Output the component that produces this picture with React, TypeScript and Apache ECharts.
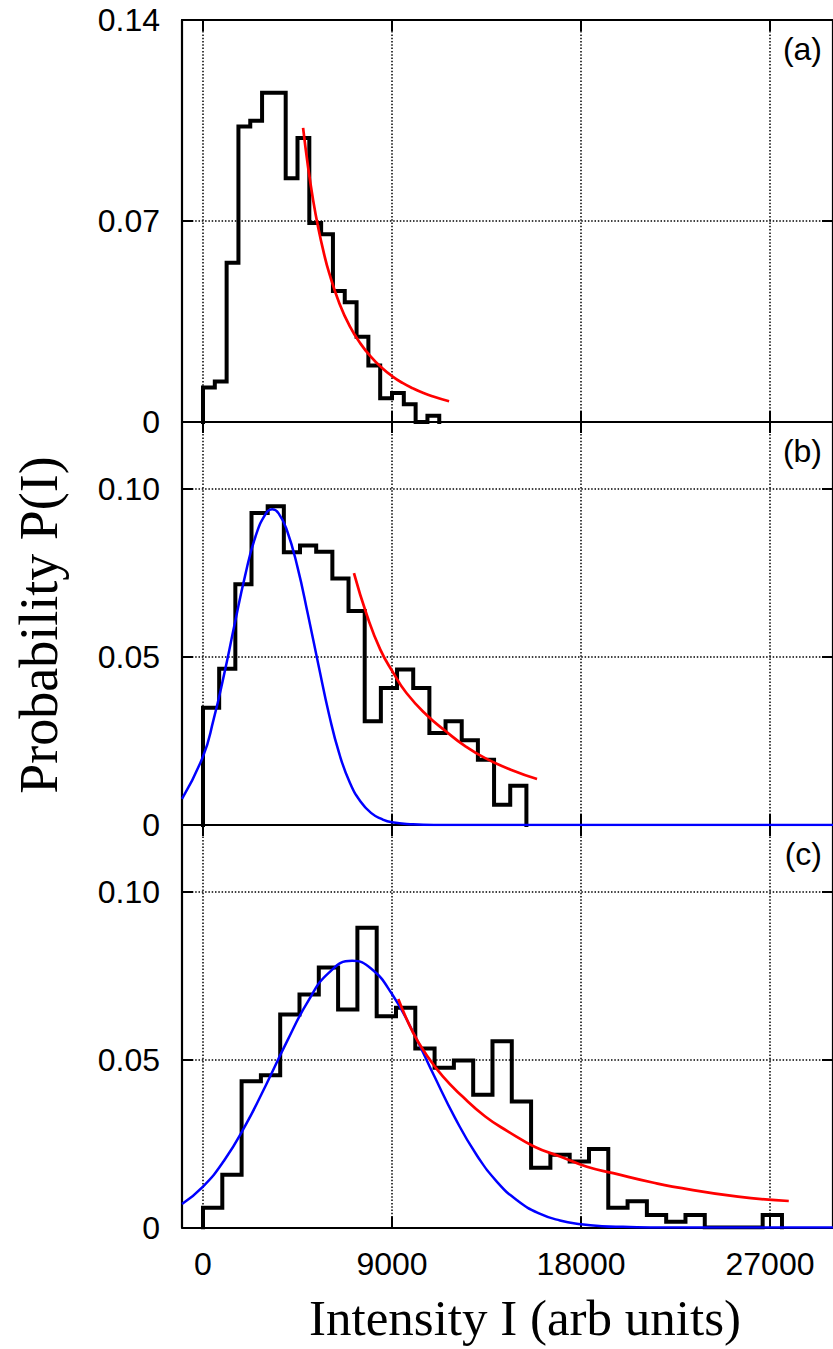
import React, { useEffect, useRef } from "react";
import * as echarts from "echarts";

// ---------- data ----------
const xMin = -1000;
const xMax = 30000;
const xTickValues = [0, 9000, 18000, 27000];
const xTickLabels = ["0", "9000", "18000", "27000"];

const panelLabels = ["(a)", "(b)", "(c)"];
const yMaxes = [0.14, 0.12, 0.12];
const yTicksA = [0, 0.07, 0.14];
const yTickLabelsA = ["0", "0.07", "0.14"];
const yTicksBC = [0, 0.05, 0.1];
const yTickLabelsBC = ["0", "0.05", "0.10"];

// histogram (a)
const binWidthA = 562.5;
const histA = [
  0.012, 0.0141, 0.0555, 0.1029, 0.1049, 0.1147, 0.1147, 0.0849, 0.0989, 0.0693,
  0.0654, 0.0456, 0.0417, 0.0297, 0.0197, 0.0083, 0.0101, 0.0062, 0, 0.0022,
];
// histogram (b)
const binWidthB = 770;
const histB = [
  0.0349, 0.0465, 0.0717, 0.0929, 0.0949, 0.0812, 0.0832, 0.0814, 0.0734, 0.0637,
  0.0309, 0.0408, 0.0463, 0.0408, 0.0274, 0.0309, 0.0252, 0.0194, 0.006, 0.0117,
];
// histogram (c)
const binWidthC = 919;
const histC = [
  0.0059, 0.0157, 0.0436, 0.0454, 0.0635, 0.0695, 0.0775, 0.065, 0.0894, 0.063,
  0.0655, 0.0534, 0.0476, 0.0498, 0.0396, 0.0555, 0.0376, 0.0178, 0.0217, 0.0197,
  0.0234, 0.0059, 0.0078, 0.0037, 0.0017, 0.0037, 0, 0, 0, 0.0037,
];

// red tail fits
const redA: [number, number][] = [
  [4766, 0.1024], [5000, 0.089], [5250, 0.077], [5500, 0.0672], [5750, 0.059],
  [6000, 0.0521], [6500, 0.0412], [7000, 0.0332], [7500, 0.0273], [8000, 0.0227],
  [8500, 0.019], [9000, 0.016], [9500, 0.0136], [10000, 0.0117], [10500, 0.0101],
  [11000, 0.0088], [11719, 0.0072],
];
const redB: [number, number][] = [
  [7188, 0.075], [7813, 0.0623], [8438, 0.0523], [9063, 0.0453], [9688, 0.0393],
  [10625, 0.0329], [11563, 0.0279], [12500, 0.0234], [13438, 0.0199],
  [14688, 0.0164], [15906, 0.0137],
];
const redC: [number, number][] = [
  [9300, 0.0681], [10004, 0.0581], [10628, 0.0516], [11410, 0.0451],
  [12348, 0.0391], [13440, 0.0331], [14533, 0.0286], [15785, 0.0241],
  [17036, 0.0211], [18283, 0.0181], [19534, 0.0162], [21410, 0.0134],
  [22348, 0.0122], [25474, 0.0092], [27894, 0.0079],
];

// blue gaussian fits
const blueB: [number, number][] = [
  [-1000, 0.0078], [0, 0.0204], [500, 0.0313], [1000, 0.0447], [1500, 0.0596],
  [2000, 0.0741], [2500, 0.0859], [3000, 0.0928], [3300, 0.094], [3600, 0.0928],
  [4000, 0.0877], [4500, 0.0768], [5000, 0.0626], [5500, 0.0476], [6000, 0.033],
  [6500, 0.021], [7000, 0.0125], [7500, 0.007], [8000, 0.0036], [8500, 0.0018],
  [9000, 0.0008], [10000, 0.0002], [11000, 0], [30000, 0],
];
const blueC: [number, number][] = [
  [-1000, 0.007], [0, 0.0122], [1000, 0.0199], [2000, 0.0302], [3000, 0.0425],
  [4000, 0.0555], [5000, 0.0674], [6000, 0.076], [7100, 0.0795], [8000, 0.0772],
  [9000, 0.0696], [10000, 0.0583], [11000, 0.0453], [12000, 0.0327],
  [13000, 0.0219], [14000, 0.0136], [15000, 0.0079], [16000, 0.0042],
  [17000, 0.0021], [18000, 0.001], [19000, 0.0004], [20000, 0.0002],
  [22000, 0], [30000, 0],
];

// ---------- layout ----------
const gridTops = [20, 422, 825];
const gridHeights = [402, 403, 402.5];
const gridLeft = 182;
const gridWidth = 661.3;
const labelFont = "'Liberation Sans', Arial, Helvetica, sans-serif";
const titleFont = "'Liberation Serif', 'Times New Roman', serif";

function stepPoints(width: number, counts: number[]): [number, number][] {
  const pts: [number, number][] = [[0, 0]];
  counts.forEach((c, k) => pts.push([k * width, c]));
  pts.push([counts.length * width, 0]);
  return pts;
}

function labelFor(ticks: number[], labels: string[]) {
  return (v: number) => {
    const k = ticks.findIndex((t) => Math.abs(t - v) < 1e-9);
    return k >= 0 ? labels[k] : "";
  };
}

export default function App() {
  const ref = useRef<HTMLDivElement>(null);

  useEffect(() => {
    if (!ref.current) return;
    const chart = echarts.init(ref.current, undefined, { renderer: "svg" });

    const hists = [
      stepPoints(binWidthA, histA),
      stepPoints(binWidthB, histB),
      stepPoints(binWidthC, histC),
    ];
    const reds = [redA, redB, redC];
    const blues: ([number, number][] | null)[] = [null, blueB, blueC];
    const yTicks = [yTicksA, yTicksBC, yTicksBC];
    const yLabels = [yTickLabelsA, yTickLabelsBC, yTickLabelsBC];

    const axisLine = { show: true, onZero: false, lineStyle: { color: "#000", width: 2.2 } };
    const tickStyle = { color: "#000", width: 2 };

    const grid: any[] = [];
    const xAxis: any[] = [];
    const yAxis: any[] = [];
    const series: any[] = [];

    for (let i = 0; i < 3; i++) {
      grid.push({ left: gridLeft, width: gridWidth, top: gridTops[i], height: gridHeights[i], containLabel: false });
      for (const pos of ["bottom", "top"]) {
        xAxis.push({
          type: "value",
          gridIndex: i,
          position: pos,
          min: xMin,
          max: xMax,
          axisLine,
          axisTick: { show: true, inside: true, length: 11, customValues: xTickValues, lineStyle: tickStyle },
          axisLabel: {
            show: i === 2 && pos === "bottom",
            customValues: xTickValues,
            margin: 20,
            fontSize: 32,
            fontFamily: labelFont,
            color: "#000",
            formatter: labelFor(xTickValues, xTickLabels),
          },
          splitLine: { show: false },
        });
      }
      for (const pos of ["left", "right"]) {
        yAxis.push({
          type: "value",
          gridIndex: i,
          position: pos,
          min: 0,
          max: yMaxes[i],
          axisLine,
          axisTick: { show: true, inside: true, length: 11, customValues: yTicks[i], lineStyle: tickStyle },
          axisLabel: {
            show: pos === "left",
            customValues: yTicks[i],
            margin: 22,
            fontSize: 32,
            fontFamily: labelFont,
            color: "#000",
            formatter: labelFor(yTicks[i], yLabels[i]),
          },
          splitLine: { show: false },
        });
      }

      const gridLineData: any[] = [
        ...xTickValues.map((v) => ({ xAxis: v })),
        ...yTicks[i].filter((v) => v > 0 && v < yMaxes[i]).map((v) => ({ yAxis: v })),
      ];

      series.push({
        type: "line",
        name: "hist" + i,
        xAxisIndex: 2 * i,
        yAxisIndex: 2 * i,
        data: hists[i],
        step: "end",
        symbol: "none",
        z: 3,
        lineStyle: { color: "#000", width: 4, join: "miter", cap: "square" },
        markLine: {
          z: 1,
          silent: true,
          symbol: ["none", "none"],
          label: { show: false },
          lineStyle: { color: "#000", width: 1.5, type: [1.5, 1.8] },
          emphasis: { disabled: true },
          data: gridLineData,
        },
      });
      const blue = blues[i];
      if (blue) {
        series.push({
          type: "line",
          name: "gauss" + i,
          xAxisIndex: 2 * i,
          yAxisIndex: 2 * i,
          data: blue,
          smooth: 0.5,
          symbol: "none",
          z: 4,
          lineStyle: { color: "#0000ff", width: 2.5 },
        });
      }
      series.push({
        type: "line",
        name: "tail" + i,
        xAxisIndex: 2 * i,
        yAxisIndex: 2 * i,
        data: reds[i],
        smooth: 0.5,
        symbol: "none",
        z: 5,
        lineStyle: { color: "#ff0000", width: 2.7 },
      });
    }

    const graphic: any[] = [
      ...panelLabels.map((t, i) => ({
        type: "text",
        right: 11,
        top: gridTops[i] + 13,
        style: { text: t, fontSize: 32, fontFamily: labelFont, fill: "#000" },
      })),
      {
        type: "text",
        x: 39,
        y: 625,
        rotation: Math.PI / 2,
        style: {
          text: "Probability P(I)",
          fontSize: 54,
          fontFamily: titleFont,
          fill: "#000",
          align: "center",
          verticalAlign: "middle",
        },
      },
      {
        type: "text",
        x: 525,
        y: 1318,
        style: {
          text: "Intensity I (arb units)",
          fontSize: 51,
          fontFamily: titleFont,
          fill: "#000",
          align: "center",
          verticalAlign: "middle",
        },
      },
    ];

    chart.setOption({
      animation: false,
      backgroundColor: "#fff",
      grid,
      xAxis,
      yAxis,
      series,
      graphic,
    });

    return () => chart.dispose();
  }, []);

  return (
    <div
      ref={ref}
      style={{ position: "absolute", left: 0, top: 0, width: 833, height: 1349, overflow: "hidden" }}
    />
  );
}
